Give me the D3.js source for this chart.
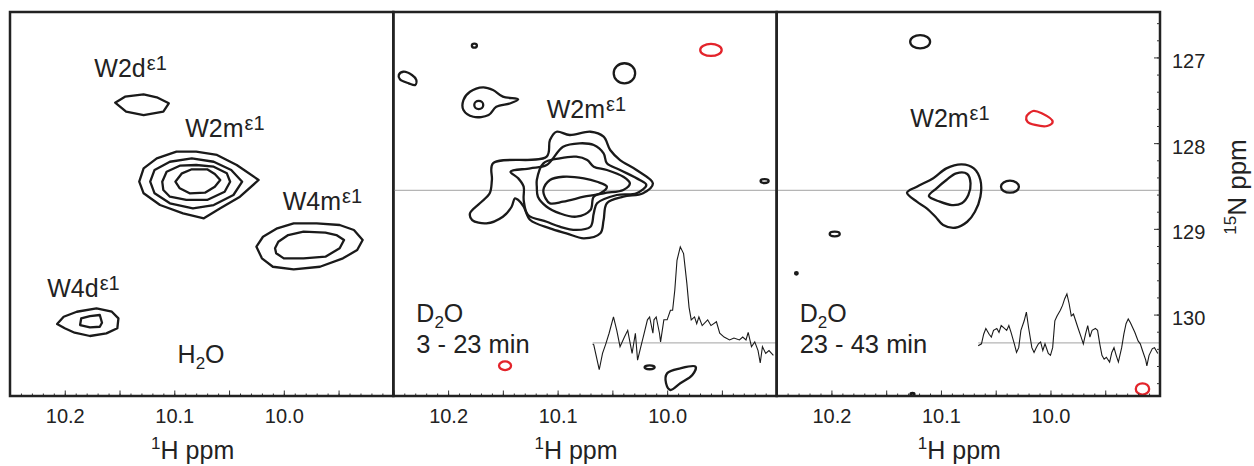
<!DOCTYPE html>
<html>
<head>
<meta charset="utf-8">
<script src="https://cdn.jsdelivr.net/npm/d3@7"></script>
<style>
  body { margin: 0; background: #fff; }
  text { font-family: "Liberation Sans", Arial, sans-serif; fill: #222; }
</style>
</head>
<body>
<div id="chart"></div>
<script>
const margin = { top: 12, left: 10, right: 94, bottom: 70 }
const width = 1254 - margin.left - margin.right
const height = 466 - margin.top - margin.bottom
const panelW = width / 3

// axes
const hDomain = [10.25, 9.90]
const nDomain = [126.47, 130.95]
const hTicks = [10.2, 10.1, 10.0]
const nTicks = [127, 128, 129, 130]
const panelNames = ['H2O', 'D2O 3 - 23 min', 'D2O 23 - 43 min']

// contour outlines, [1H ppm, 15N ppm]; sign -1 = negative (red) level
const contoursH2O = [
  { sign: 1, pts: [[10.154,127.528],[10.145,127.458],[10.128,127.430],[10.116,127.465],[10.105,127.535],[10.110,127.633],[10.128,127.672],[10.144,127.633]] },
  { sign: 1, pts: [[10.132,128.450],[10.128,128.294],[10.116,128.177],[10.098,128.100],[10.080,128.100],[10.061,128.138],[10.043,128.255],[10.023,128.430],[10.040,128.625],[10.058,128.760],[10.073,128.877],[10.092,128.819],[10.113,128.722],[10.128,128.585]] },
  { sign: 1, pts: [[10.122,128.450],[10.118,128.313],[10.104,128.217],[10.084,128.177],[10.064,128.217],[10.048,128.313],[10.038,128.450],[10.046,128.605],[10.064,128.722],[10.083,128.760],[10.104,128.702],[10.118,128.585]] },
  { sign: 1, pts: [[10.111,128.450],[10.107,128.333],[10.095,128.263],[10.080,128.255],[10.064,128.275],[10.052,128.352],[10.049,128.450],[10.054,128.567],[10.070,128.663],[10.089,128.663],[10.104,128.625],[10.110,128.547]] },
  { sign: 1, pts: [[10.099,128.450],[10.093,128.352],[10.084,128.305],[10.070,128.305],[10.063,128.360],[10.058,128.430],[10.063,128.508],[10.072,128.578],[10.086,128.585],[10.095,128.527]] },
  { sign: 1, pts: [[10.025,129.208],[10.019,129.092],[10.006,128.994],[9.991,128.935],[9.970,128.935],[9.949,128.955],[9.936,129.013],[9.928,129.130],[9.933,129.247],[9.946,129.344],[9.967,129.442],[9.991,129.472],[10.010,129.442],[10.020,129.344]] },
  { sign: 1, pts: [[10.008,129.227],[10.005,129.150],[9.996,129.072],[9.982,129.033],[9.962,129.045],[9.952,129.072],[9.945,129.130],[9.949,129.227],[9.962,129.325],[9.982,129.344],[10.000,129.344],[10.007,129.285]] },
  { sign: 1, pts: [[10.207,130.110],[10.201,130.025],[10.189,129.967],[10.171,129.927],[10.157,129.967],[10.151,130.044],[10.152,130.160],[10.162,130.219],[10.177,130.250],[10.191,130.212],[10.200,130.160]] },
  { sign: 1, pts: [[10.186,130.122],[10.185,130.044],[10.177,130.017],[10.168,130.005],[10.166,130.095],[10.168,130.142],[10.177,130.149]] }
]

const contours3to23 = [
  { sign: 1, pts: [[10.159,128.235],[10.110,128.158],[10.107,127.963],[10.101,127.867],[10.089,127.905],[10.070,127.867],[10.058,127.925],[10.052,128.080],[10.043,128.197],[10.028,128.313],[10.013,128.469],[10.022,128.585],[10.040,128.625],[10.055,128.702],[10.058,128.897],[10.061,129.052],[10.076,129.110],[10.092,129.052],[10.107,128.994],[10.125,128.897],[10.131,128.742],[10.136,128.663],[10.139,128.644],[10.142,128.742],[10.150,128.858],[10.165,128.935],[10.178,128.897],[10.180,128.819],[10.171,128.702],[10.162,128.585],[10.160,128.430]] },
  { sign: 1, pts: [[10.143,128.333],[10.125,128.294],[10.110,128.255],[10.095,128.042],[10.080,128.002],[10.067,128.022],[10.058,128.119],[10.055,128.235],[10.043,128.313],[10.025,128.430],[10.019,128.488],[10.028,128.585],[10.046,128.605],[10.064,128.702],[10.067,128.819],[10.070,128.975],[10.083,129.013],[10.098,128.975],[10.110,128.917],[10.127,128.838],[10.131,128.663],[10.131,128.508],[10.136,128.410]] },
  { sign: 1, pts: [[10.119,128.430],[10.113,128.235],[10.098,128.177],[10.083,128.158],[10.073,128.197],[10.067,128.275],[10.055,128.313],[10.040,128.392],[10.034,128.469],[10.040,128.547],[10.058,128.585],[10.067,128.625],[10.070,128.780],[10.083,128.858],[10.098,128.819],[10.110,128.742],[10.118,128.625],[10.119,128.508]] },
  { sign: 1, pts: [[10.113,128.547],[10.107,128.430],[10.095,128.392],[10.076,128.410],[10.064,128.450],[10.055,128.508],[10.061,128.585],[10.076,128.625],[10.095,128.683],[10.107,128.702],[10.111,128.644]] },
  { sign: 1, pts: [[10.186,127.497],[10.180,127.400],[10.168,127.349],[10.159,127.380],[10.150,127.458],[10.136,127.489],[10.143,127.535],[10.156,127.575],[10.163,127.672],[10.177,127.692],[10.186,127.613]] },
  { sign: 1, pts: [[10.245,127.205],[10.241,127.167],[10.233,127.205],[10.229,127.263],[10.230,127.322],[10.236,127.302],[10.244,127.255]] },
  { sign: 1, pts: [[10.000,130.685],[9.988,130.627],[9.974,130.608],[9.977,130.705],[9.988,130.802],[9.997,130.880],[10.001,130.802]] }
]

const contours23to43 = [
  { sign: 1, pts: [[10.131,128.578],[10.122,128.508],[10.107,128.410],[10.095,128.294],[10.081,128.247],[10.070,128.294],[10.064,128.430],[10.064,128.625],[10.069,128.800],[10.076,128.917],[10.087,128.987],[10.098,128.955],[10.105,128.858],[10.113,128.760],[10.122,128.683]] },
  { sign: 1, pts: [[10.111,128.617],[10.104,128.527],[10.095,128.430],[10.086,128.352],[10.076,128.360],[10.073,128.469],[10.075,128.605],[10.081,128.702],[10.090,128.722],[10.101,128.683]] },
  { sign: -1, pts: [[10.022,127.692],[10.016,127.625],[10.008,127.652],[9.998,127.750],[10.003,127.800],[10.014,127.788],[10.021,127.750]] }
]

// small isolated peaks: centre and half widths in ppm
const spots3to23 = [
  { h: 10.172, n: 127.555, rh: 0.0041, rn: 0.047, sign: 1 },
  { h: 10.176, n: 126.863, rh: 0.0023, rn: 0.023, sign: 1 },
  { h: 10.039, n: 127.185, rh: 0.0098, rn: 0.117, sign: 1 },
  { h: 9.960, n: 126.913, rh: 0.0098, rn: 0.070, sign: -1 },
  { h: 9.911, n: 128.442, rh: 0.0037, rn: 0.023, sign: 1 },
  { h: 10.148, n: 130.597, rh: 0.0055, rn: 0.050, sign: -1 },
  { h: 10.016, n: 130.615, rh: 0.0046, rn: 0.023, sign: 1 }
]
const spots23to43 = [
  { h: 10.119, n: 126.817, rh: 0.0091, rn: 0.078, sign: 1 },
  { h: 10.037, n: 128.508, rh: 0.0082, rn: 0.070, sign: 1 },
  { h: 10.197, n: 129.060, rh: 0.0046, rn: 0.027, sign: 1 },
  { h: 10.232, n: 129.519, rh: 0.0012, rn: 0.015, sign: 1 },
  { h: 9.916, n: 130.868, rh: 0.0061, rn: 0.066, sign: -1 },
  { h: 10.126, n: 130.930, rh: 0.0018, rn: 0.015, sign: 1 }
]

// 1D slices at 128.55 ppm, [1H ppm, intensity]
const trace3to23 = [[10.068,-1],[10.067,-2],[10.062,-28],[10.059,-11],[10.056,-1],[10.053,10],[10.049,27],[10.046,13],[10.043,-4],[10.039,6],[10.036,13],[10.032,-11],[10.029,10],[10.027,-18],[10.024,-4],[10.021,10],[10.018,24],[10.016,27],[10.013,10],[10.012,24],[10.010,27],[10.007,10],[10.006,1],[10.003,24],[10.000,24],[9.997,34],[9.995,34],[9.993,55],[9.991,86],[9.988,100],[9.985,93],[9.982,62],[9.980,37],[9.978,24],[9.975,27],[9.973,20],[9.971,27],[9.968,18],[9.963,24],[9.960,18],[9.955,22],[9.952,10],[9.948,6],[9.943,3],[9.939,5],[9.934,3],[9.931,6],[9.928,3],[9.926,11],[9.923,-4],[9.920,1],[9.917,-8],[9.915,-21],[9.913,-4],[9.910,-11],[9.907,-8],[9.903,-13]]
const trace23to43 = [[10.066,-3],[10.063,-1],[10.061,9],[10.059,15],[10.056,9],[10.054,6],[10.052,13],[10.049,15],[10.047,11],[10.045,18],[10.042,15],[10.040,13],[10.038,18],[10.036,11],[10.033,-1],[10.031,-10],[10.029,-5],[10.027,13],[10.024,23],[10.022,32],[10.020,16],[10.017,-5],[10.015,-10],[10.013,-5],[10.011,-1],[10.009,1],[10.007,-8],[10.005,-1],[10.002,-11],[10.000,-13],[9.998,-5],[9.996,23],[9.994,28],[9.991,34],[9.989,39],[9.987,46],[9.985,51],[9.983,41],[9.981,28],[9.979,30],[9.977,23],[9.975,16],[9.972,6],[9.970,-1],[9.968,9],[9.966,18],[9.964,6],[9.962,13],[9.959,15],[9.957,13],[9.955,-1],[9.953,-13],[9.951,-17],[9.949,-15],[9.946,-20],[9.944,-10],[9.942,-5],[9.940,-13],[9.938,-20],[9.935,-5],[9.933,9],[9.931,20],[9.929,25],[9.927,21],[9.925,16],[9.923,11],[9.920,2],[9.918,-1],[9.916,-8],[9.913,-18],[9.912,-24],[9.910,-13],[9.907,-6],[9.905,-5],[9.902,-11]]
const sliceN = 128.55
const traceBaseN = 130.33

// peak labels: [text, superscript, 1H, 15N]
const labelsH2O = [['W2d', 'ε1', 10.173, 127.228], ['W2m', 'ε1', 10.090, 127.928], ['W4m', 'ε1', 10.001, 128.780], ['W4d', 'ε1', 10.216, 129.795]]
const labels3to23 = [['W2m', 'ε1', 10.110, 127.707]]
const labels23to43 = [['W2m', 'ε1', 10.128, 127.812]]

const panels = [
  { name: panelNames[0], contours: contoursH2O, spots: [], trace: null, labels: labelsH2O, smooth: false },
  { name: panelNames[1], contours: contours3to23, spots: spots3to23, trace: trace3to23, labels: labels3to23, smooth: true },
  { name: panelNames[2], contours: contours23to43, spots: spots23to43, trace: trace23to43, labels: labels23to43, smooth: true }
]

var svg = d3.select('#chart')
  .append('svg')
  .attr('width', width + margin.left + margin.right)
  .attr('height', height + margin.top + margin.bottom)
  .append('g')
  .attr('transform', 'translate(' + margin.left + ',' + margin.top + ')')

var y = d3.scaleLinear().domain(nDomain).range([0, height])
var yI = d3.scaleLinear().domain([0, 100]).range([y(traceBaseN), y(traceBaseN) - 96])

var minorH = d3.range(0, 36).map(function(i) { return +(10.25 - i * 0.01).toFixed(2) })
var majorH = d3.range(0, 8).map(function(i) { return +(10.25 - i * 0.05).toFixed(2) })
var minorN = d3.range(0, 22).map(function(i) { return +(126.6 + i * 0.2).toFixed(1) })

function colour(sign) { return sign < 0 ? '#e3242b' : '#1a1a1a' }

// subscript helper for H2O / D2O
function water(sel, atom) {
  sel.append('tspan').text(atom)
  sel.append('tspan').text('2').attr('font-size', 17).attr('dy', 6)
  sel.append('tspan').text('O').attr('dy', -6)
}

panels.forEach(function(p, i) {
  var x0 = i * panelW
  var x = d3.scaleLinear().domain(hDomain).range([x0, x0 + panelW])
  var g = svg.append('g').attr('class', 'panel')

  g.append('clipPath').attr('id', 'clip' + i)
    .append('rect').attr('x', x0).attr('y', 0).attr('width', panelW).attr('height', height)

  var plot = g.append('g').attr('clip-path', 'url(#clip' + i + ')')

  // grey reference lines + 1D slice
  if (p.trace) {
    plot.append('line')
      .attr('x1', x0).attr('x2', x0 + panelW)
      .attr('y1', y(sliceN)).attr('y2', y(sliceN))
      .attr('stroke', '#b5b5b5').attr('stroke-width', 1.2)
    plot.append('line')
      .attr('x1', x(p.trace[0][0])).attr('x2', x0 + panelW)
      .attr('y1', yI(0)).attr('y2', yI(0))
      .attr('stroke', '#b5b5b5').attr('stroke-width', 1.2)
    plot.append('path')
      .datum(p.trace)
      .attr('fill', 'none')
      .attr('stroke', '#1a1a1a')
      .attr('stroke-width', 1.1)
      .attr('d', d3.line().x(d => x(d[0])).y(d => yI(d[1])))
  }

  var contourLine = d3.line()
    .x(d => x(d[0]))
    .y(d => y(d[1]))
    .curve(p.smooth ? d3.curveCatmullRomClosed.alpha(0.5) : d3.curveLinearClosed)

  plot.selectAll('.contour')
    .data(p.contours)
    .enter().append('path')
    .attr('class', 'contour')
    .attr('fill', 'none')
    .attr('stroke', d => colour(d.sign))
    .attr('stroke-width', 2.3)
    .attr('stroke-linejoin', 'round')
    .attr('d', d => contourLine(d.pts))

  plot.selectAll('.spot')
    .data(p.spots)
    .enter().append('ellipse')
    .attr('class', 'spot')
    .attr('cx', d => x(d.h))
    .attr('cy', d => y(d.n))
    .attr('rx', d => x(d.h - d.rh) - x(d.h))
    .attr('ry', d => y(d.n + d.rn) - y(d.n))
    .attr('fill', 'none')
    .attr('stroke', d => colour(d.sign))
    .attr('stroke-width', 2.3)

  // peak labels with superscript
  var lab = g.selectAll('.peak-label')
    .data(p.labels)
    .enter().append('text')
    .attr('class', 'peak-label')
    .attr('x', d => x(d[2]))
    .attr('y', d => y(d[3]))
    .attr('font-size', 25)
  lab.append('tspan').text(d => d[0])
  lab.append('tspan').text(d => d[1]).attr('font-size', 20).attr('dy', -7).attr('dx', 1)

  // condition label
  if (i === 0) {
    water(g.append('text').attr('x', x(10.097)).attr('y', y(130.565)).attr('font-size', 25), 'H')
  } else {
    water(g.append('text').attr('x', x(10.229)).attr('y', y(130.087)).attr('font-size', 25), 'D')
    g.append('text').attr('x', x(10.229)).attr('y', y(130.448)).attr('font-size', 25.5)
      .text(p.name.split(' ').slice(1).join(' '))
  }

  // bottom axis, ticks pointing inward
  var ax = g.append('g').attr('transform', 'translate(0,' + height + ')')
  ax.append('g').call(d3.axisBottom(x).tickValues(minorH).tickSize(-2.5).tickFormat(''))
  ax.append('g').call(d3.axisBottom(x).tickValues(majorH).tickSize(-5.5).tickFormat(''))
  ax.append('g').call(d3.axisBottom(x).tickValues(hTicks).tickSize(0).tickPadding(13).tickFormat(d3.format('.1f')))
  ax.selectAll('.domain').remove()
  ax.selectAll('line').attr('stroke', '#333')
  ax.selectAll('text').attr('font-size', 20).attr('font-family', '"Liberation Sans", Arial, sans-serif').attr('fill', '#222')

  var xt = g.append('text')
    .attr('x', x0 + panelW / 2 - 9)
    .attr('y', height + 63)
    .attr('text-anchor', 'middle')
    .attr('font-size', 25)
  xt.append('tspan').text('1').attr('font-size', 17).attr('dy', -10)
  xt.append('tspan').text('H ppm').attr('dy', 10)

  // frame
  g.append('rect')
    .attr('x', x0).attr('y', 0)
    .attr('width', panelW).attr('height', height)
    .attr('fill', 'none')
    .attr('stroke', '#222')
    .attr('stroke-width', 2.5)
})

// right 15N axis
var ay = svg.append('g').attr('transform', 'translate(' + width + ',0)')
ay.append('g').call(d3.axisRight(y).tickValues(minorN).tickSize(-3).tickFormat(''))
ay.append('g').call(d3.axisRight(y).tickValues(nTicks).tickSize(-6).tickFormat(''))
ay.append('g').call(d3.axisRight(y).tickValues(nTicks).tickSize(0).tickPadding(12).tickFormat(d3.format('d')))
ay.selectAll('.domain').remove()
ay.selectAll('line').attr('stroke', '#333')
ay.selectAll('text').attr('font-size', 20).attr('dy', '0.5em')
  .attr('font-family', '"Liberation Sans", Arial, sans-serif').attr('fill', '#222')

var yt = svg.append('text')
  .attr('transform', 'translate(' + (width + 86) + ',' + (height / 2 - 17) + ') rotate(-90)')
  .attr('text-anchor', 'middle')
  .attr('font-size', 26)
yt.append('tspan').text('15').attr('font-size', 17).attr('dy', -10)
yt.append('tspan').text('N ppm').attr('dy', 10)
</script>
</body>
</html>
